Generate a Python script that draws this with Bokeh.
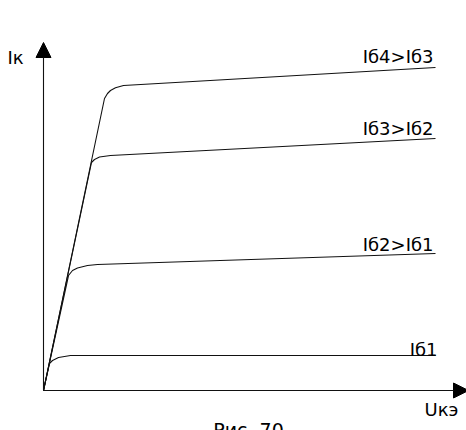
from bokeh.plotting import figure
from bokeh.models import Range1d, Arrow, NormalHead
from bokeh.core.properties import value
from bokeh.embed import file_html
from bokeh.resources import INLINE

# ---- data (schematic units: U_ke along x, I_k along y) ----
u_b1 = [0, 0.153, 0.230, 0.383, 0.689, 10.0]
i_b1 = [0, 0.900, 1.000, 1.100, 1.167, 1.167]

u_b2 = [0, 0.638, 0.740, 0.867, 1.122, 1.378, 10.0]
i_b2 = [0, 3.833, 4.000, 4.083, 4.167, 4.200, 4.567]

u_b3 = [0, 1.224, 1.301, 1.429, 1.709, 10.0]
i_b3 = [0, 7.600, 7.700, 7.783, 7.833, 8.400]

u_b4 = [0, 1.556, 1.633, 1.709, 1.837, 2.041, 10.0]
i_b4 = [0, 9.733, 9.900, 10.000, 10.090, 10.167, 10.767]

curve_labels = ["Iб1", "Iб2>Iб1", "Iб3>Iб2", "Iб4>Iб3"]
x_title = "Uкэ"
y_title = "Iк"
caption = "Рис. 70"

# ---- layout ----
PX_X = 39.2   # pixels per x unit
PX_Y = 30.0   # pixels per y unit
W, H = 466, 430
OX, OY = 43, 390   # origin position inside the canvas

p = figure(width=W, height=H, output_backend="svg", toolbar_location=None,
           x_range=Range1d(-OX / PX_X, (W - OX) / PX_X),
           y_range=Range1d(-(H - OY) / PX_Y, OY / PX_Y),
           x_axis_location=None, y_axis_location=None,
           min_border=0, outline_line_color=None,
           background_fill_color="white", border_fill_color="white")
p.xgrid.visible = False
p.ygrid.visible = False

FONT = value("DejaVu Sans")
line_kw = dict(line_color="#111111", line_width=1.1)

curves = [(u_b1, i_b1), (u_b2, i_b2), (u_b3, i_b3), (u_b4, i_b4)]
for u, i in curves:
    p.line(u, i, **line_kw)

# axes with arrows
x_tip = 425 / PX_X
y_tip = 348 / PX_Y
p.add_layout(Arrow(x_start=0, y_start=0, x_end=x_tip, y_end=0,
                   line_color="#111111", line_width=1.1,
                   end=NormalHead(size=15, fill_color="black", line_color="black", line_width=1)))
p.add_layout(Arrow(x_start=0, y_start=0, x_end=0, y_end=y_tip,
                   line_color="#111111", line_width=1.1,
                   end=NormalHead(size=15, fill_color="black", line_color="black", line_width=1)))

# curve labels, right aligned above each curve end
gaps_px = [6, 9, 10, 11]
lab_x = [u[-1] + 2 / PX_X for u, _ in curves]
lab_x = [lab_x[0]] + [x - 4 / PX_X for x in lab_x[1:]]
lab_y = [i[-1] + g / PX_Y for (_, i), g in zip(curves, gaps_px)]
p.text(x=lab_x, y=lab_y, text=curve_labels, text_align="right",
       text_baseline="alphabetic", text_font=FONT, text_font_size="18px",
       text_color="black")

# axis titles
p.text(x=[-36 / PX_X], y=[323 / PX_Y], text=[y_title], text_align="left",
       text_font=FONT, text_font_size="18px", text_color="black")
p.text(x=[381 / PX_X], y=[-29 / PX_Y], text=[x_title], text_align="left",
       text_font=FONT, text_font_size="18px", text_color="black")

# caption (cut off at the bottom edge, as in the original)
p.text(x=[205 / PX_X], y=[-50 / PX_Y], text=[caption], text_align="center",
       text_font=FONT, text_font_size="19px", text_color="black")

open("out.html", "w").write(file_html(p, INLINE))
